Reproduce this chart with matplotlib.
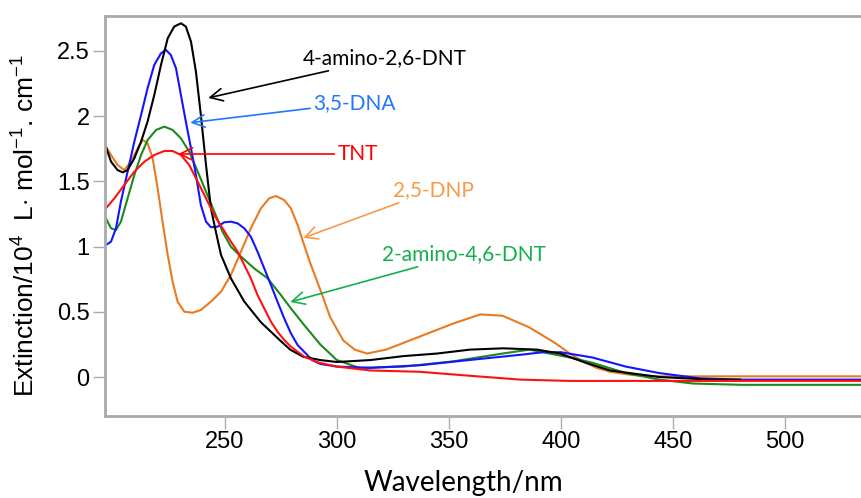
import numpy as np
import matplotlib
matplotlib.use("Agg")
import matplotlib.pyplot as plt

## Data (wavelength in nm, extinction in 1e4 L/mol/cm)
wl_tnt = [196.9, 200.7, 205.1, 209.6, 214.1, 218.5, 223.0, 226.7, 230.4, 234.1, 237.9, 241.6,
          245.3, 249.0, 252.7, 255.7, 258.7, 261.6, 264.6, 267.6, 270.6, 273.5, 276.5, 279.5,
          282.5, 285.4, 292, 300, 315, 337, 359, 382, 404, 534.5]
ext_tnt = [1.293, 1.370, 1.472, 1.575, 1.651, 1.702, 1.733, 1.733, 1.702, 1.626, 1.498, 1.370,
           1.242, 1.140, 1.038, 0.961, 0.859, 0.757, 0.629, 0.526, 0.424, 0.348, 0.284, 0.233,
           0.194, 0.156, 0.11, 0.08, 0.05, 0.04, 0.01, -0.02, -0.03, -0.03]

wl_dna = [196.9, 199.2, 201.4, 203.6, 206.6, 209.6, 212.6, 215.5, 218.5, 221.5, 223.7, 225.9,
          228.2, 230.4, 232.6, 234.9, 237.1, 239.3, 241.6, 243.8, 246.8, 249.7, 252.7, 255.7,
          258.7, 261.6, 264.6, 267.6, 270.6, 273.5, 276.5, 279.5, 282.5, 285.4, 289, 292.6,
          300, 315, 337, 359, 381.8, 392, 400, 414, 429, 444, 462, 480, 534.5]
ext_dna = [1.012, 1.038, 1.140, 1.345, 1.575, 1.805, 2.009, 2.214, 2.393, 2.482, 2.508, 2.469,
           2.367, 2.162, 1.958, 1.753, 1.549, 1.319, 1.191, 1.148, 1.153, 1.186, 1.191, 1.178,
           1.140, 1.076, 0.961, 0.833, 0.705, 0.578, 0.450, 0.335, 0.245, 0.194, 0.13, 0.10,
           0.08, 0.07, 0.09, 0.13, 0.17, 0.19, 0.19, 0.15, 0.08, 0.03, -0.01, -0.02, -0.02]

wl_4a = [196.9, 199.2, 202.1, 204.4, 206.6, 209.6, 212.6, 215.5, 218.5, 221.5, 224.5, 227.4,
         230.4, 232.6, 234.9, 237.1, 239.3, 241.6, 243.8, 246.0, 248.3, 252.7, 258.7, 266.1,
         270.4, 274.7, 279.2, 285, 292.6, 300, 315, 329.6, 344.8, 359.5, 374.3, 389.4, 399.7,
         411, 422, 444, 467, 480]
ext_4a = [1.766, 1.651, 1.587, 1.569, 1.587, 1.677, 1.805, 1.958, 2.162, 2.393, 2.597, 2.687,
          2.712, 2.687, 2.571, 2.341, 2.009, 1.626, 1.293, 1.114, 0.936, 0.757, 0.578, 0.42,
          0.35, 0.28, 0.21, 0.155, 0.13, 0.115, 0.13, 0.16, 0.18, 0.21, 0.22, 0.21, 0.18,
          0.11, 0.05, 0.0, -0.02, -0.02]

wl_2a = [196.9, 199.2, 201.4, 203.6, 206.6, 209.6, 212.6, 215.5, 219.3, 223.0, 226.7, 230.4,
         234.1, 237.9, 241.6, 245.3, 249.0, 252.7, 257.2, 263.1, 269.1, 275.0, 279.5, 285.4,
         292.6, 300, 310, 330, 352, 374, 386, 404, 414, 429, 444, 459, 481, 534.5]
ext_2a = [1.217, 1.140, 1.127, 1.191, 1.370, 1.549, 1.702, 1.817, 1.894, 1.920, 1.894, 1.830,
          1.728, 1.575, 1.421, 1.268, 1.114, 0.999, 0.923, 0.833, 0.757, 0.629, 0.526, 0.399,
          0.25, 0.13, 0.07, 0.08, 0.12, 0.18, 0.21, 0.15, 0.11, 0.03, -0.02, -0.05, -0.06, -0.06]

wl_dnp = [196.9, 199.2, 202.1, 205.1, 208.1, 211.1, 213.3, 215.5, 217.8, 220.0, 222.2, 224.5,
          226.7, 228.9, 231.9, 235.6, 239.3, 243.8, 248.3, 252.7, 257.2, 261.6, 266.1, 269.8,
          272.8, 276.5, 279.5, 282.5, 285.4, 288, 292.6, 297, 302.9, 308, 313.5, 322, 337,
          352, 364, 374, 386, 396.6, 400, 404, 410, 416, 422, 432, 445, 534.5]
ext_dnp = [1.766, 1.702, 1.626, 1.587, 1.651, 1.754, 1.818, 1.792, 1.677, 1.447, 1.191, 0.936,
           0.731, 0.578, 0.501, 0.493, 0.514, 0.578, 0.654, 0.782, 0.961, 1.140, 1.293, 1.370,
           1.388, 1.357, 1.293, 1.166, 1.012, 0.88, 0.67, 0.46, 0.28, 0.21, 0.18, 0.21, 0.31,
           0.41, 0.48, 0.47, 0.38, 0.27, 0.23, 0.18, 0.12, 0.07, 0.04, 0.015, 0.005, 0.005]

labels = ["4-amino-2,6-DNT", "3,5-DNA", "TNT", "2,5-DNP", "2-amino-4,6-DNT"]
label_xy = [(285.0, 2.446), (289.4, 2.10), (300.2, 1.71), (325.1, 1.434), (320.2, 0.943)]
arrow_xy = [(242.6, 2.14), (234.6, 1.95), (229.2, 1.71), (285.0, 1.066), (279.2, 0.575)]
label_colors = ["black", "#1f78ff", "#ff0000", "#f79a4a", "#13b04c"]

## Figure
plt.rcParams['mathtext.fontset'] = 'custom'
plt.rcParams['mathtext.rm'] = 'Liberation Sans'
plt.rcParams['mathtext.it'] = 'Liberation Sans:italic'

fig = plt.figure(figsize=(8.62, 4.98), dpi=100)
ax = fig.add_axes([105/862, 1 - 416/498, 1 - 105/862, 400/498])

ax.plot(wl_dnp, ext_dnp, color="#ea7a20", lw=1.5)
ax.plot(wl_2a, ext_2a, color="#1a8a1a", lw=1.5)
ax.plot(wl_dna, ext_dna, color="#1414ff", lw=1.5)
ax.plot(wl_4a, ext_4a, color="black", lw=1.5)
ax.plot(wl_tnt, ext_tnt, color="#ff1010", lw=1.5)

for lab, xy, tip, c in zip(labels, label_xy, arrow_xy, label_colors):
    ax.annotate(lab, xy=tip, xytext=xy, ha='left', va='center', color=c,
                fontsize=15, family='Lato',
                arrowprops=dict(arrowstyle='->,head_length=0.6,head_width=0.3',
                                color=c, lw=1.2, shrinkA=0, shrinkB=0))

ax.set_xlim(196.5, 534.5)
ax.set_ylim(-0.299, 2.768)
ax.set_xticks([250, 300, 350, 400, 450, 500])
ax.set_yticks([0, 0.5, 1, 1.5, 2, 2.5])
ax.set_yticklabels(["0", "0.5", "1", "1.5", "2", "2.5"])

for side in ['left', 'top', 'bottom']:
    ax.spines[side].set_color('#aaaaaa')
    ax.spines[side].set_linewidth(2)
ax.spines['right'].set_visible(False)
ax.tick_params(colors='#aaaaaa', length=9, width=1, labelcolor='black', labelsize=17, pad=2)
for t in ax.get_xticklabels() + ax.get_yticklabels():
    t.set_family('Liberation Sans')

ax.set_xlabel("Wavelength/nm", fontsize=20, family='Lato')
ax.xaxis.set_label_coords(0.473, -0.135)
ax.set_ylabel("Extinction/10$^{4}$  L$\\cdot$ mol$^{-1}$. cm$^{-1}$", fontsize=19,
              family='Liberation Sans')
ax.yaxis.set_label_coords(-0.086, 0.475)

fig.savefig("out.png", dpi=100)
